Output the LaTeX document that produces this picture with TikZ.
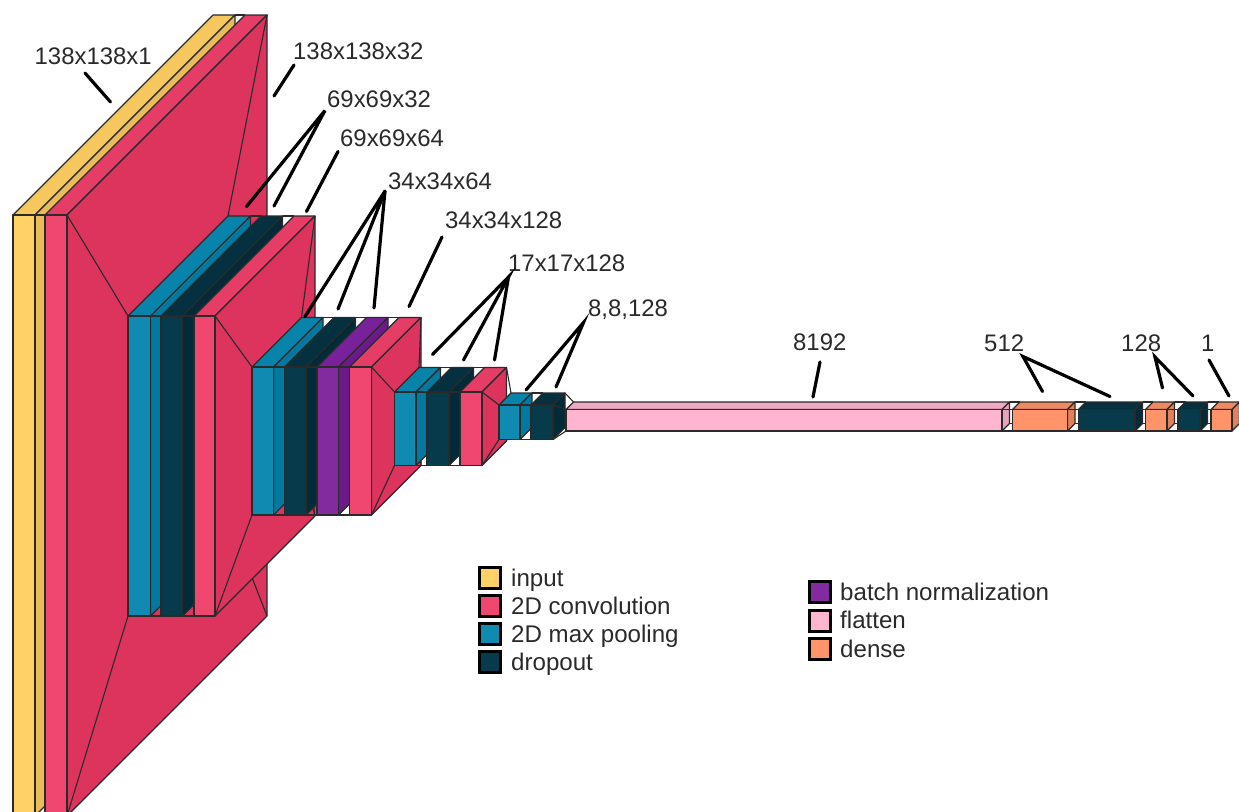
\documentclass[tikz,border=0pt]{standalone}
\usepackage{fontspec}
\setmainfont{Liberation Sans}
\usepackage{xcolor}
\definecolor{inputfront}{HTML}{FFD166}
\definecolor{inputtop}{HTML}{F5C75C}
\definecolor{inputside}{HTML}{E9BC57}
\definecolor{convfront}{HTML}{EF476F}
\definecolor{convtop}{HTML}{E53D65}
\definecolor{convside}{HTML}{DC345C}
\definecolor{poolfront}{HTML}{118AB2}
\definecolor{pooltop}{HTML}{0883A9}
\definecolor{poolside}{HTML}{0479A0}
\definecolor{dropfront}{HTML}{073B4C}
\definecolor{droptop}{HTML}{05303F}
\definecolor{dropside}{HTML}{032A38}
\definecolor{batchfront}{HTML}{822B9F}
\definecolor{batchtop}{HTML}{78219A}
\definecolor{batchside}{HTML}{6D1A89}
\definecolor{flatfront}{HTML}{FFB5D0}
\definecolor{flattop}{HTML}{F0A9C3}
\definecolor{flatside}{HTML}{E6A3BB}
\definecolor{densefront}{HTML}{FF9369}
\definecolor{densetop}{HTML}{EF8A60}
\definecolor{denseside}{HTML}{E5805A}
\definecolor{edge}{HTML}{2A2A2A}
\definecolor{ink}{HTML}{2A2A2A}
\tikzset{
    face/.style={draw=edge,line width=1.1pt,line join=round},
    link/.style={draw=edge,line width=1.1pt},
    leader/.style={draw=black,line width=3.2pt,line cap=round},
    dimlabel/.style={font=\fontsize{23.9}{27}\selectfont,text=ink,anchor=base west,inner sep=0pt},
    keylabel/.style={font=\fontsize{24.1}{27}\selectfont,text=ink,anchor=base west,inner sep=0pt},
    legendbox/.style={draw=black,line width=3pt,minimum size=21pt,inner sep=0pt}
}
% name, x0, x1, ytop, ybot, depth
\newcommand{\layerpos}[6]{
    \coordinate (#1-ftl) at (#2,#4);
    \coordinate (#1-ftr) at (#3,#4);
    \coordinate (#1-fbl) at (#2,#5);
    \coordinate (#1-fbr) at (#3,#5);
    \coordinate (#1-btl) at ({#2+#6},{#4-#6});
    \coordinate (#1-btr) at ({#3+#6},{#4-#6});
    \coordinate (#1-bbl) at ({#2+#6},{#5-#6});
    \coordinate (#1-bbr) at ({#3+#6},{#5-#6});
}
% name, kind
\newcommand{\layerbox}[2]{
    \draw[face,fill=#2top] (#1-ftl) -- (#1-btl) -- (#1-btr) -- (#1-ftr) -- cycle;
    \draw[face,fill=#2side] (#1-ftr) -- (#1-btr) -- (#1-bbr) -- (#1-fbr) -- cycle;
    \draw[face,fill=#2front] (#1-ftl) -- (#1-ftr) -- (#1-fbr) -- (#1-fbl) -- cycle;
}
\newcommand{\funnel}[2]{
    \draw[link] (#1-ftr) -- (#2-ftl);
    \draw[link] (#1-btr) -- (#2-btl);
    \draw[link] (#1-fbr) -- (#2-fbl);
    \draw[link] (#1-bbr) -- (#2-bbl);
}

\begin{document}
\begin{tikzpicture}[x=1pt,y=-1pt]
    \fill[white] (0,0) rectangle (1239,811);
    \clip (0,0) rectangle (1239,811);

    \layerpos{inp}{13}{35}{215}{816}{200}
    \layerpos{convA}{45}{67}{215}{816}{200}
    \layerpos{poolA}{128}{150.5}{316}{616}{100}
    \layerpos{dropA}{161}{182.5}{316}{616}{100}
    \layerpos{convB}{194}{215}{316}{616}{100}
    \layerpos{poolB}{252}{273.5}{367}{515}{49.5}
    \layerpos{dropB}{284.5}{306}{367}{515}{49.5}
    \layerpos{batchB}{317}{338.5}{367}{515}{49.5}
    \layerpos{convC}{349.5}{371.5}{367}{515}{49.5}
    \layerpos{poolC}{394.5}{416}{392}{465.5}{24.5}
    \layerpos{dropC}{427}{449}{392}{465.5}{24.5}
    \layerpos{convD}{460}{482}{392}{465.5}{24.5}
    \layerpos{poolD}{499}{520}{405}{439.5}{12}
    \layerpos{dropD}{531}{553}{405}{439.5}{12}
    \layerpos{flat}{566}{1002}{409.5}{431}{7.5}
    \layerpos{denseA}{1012.5}{1067.5}{409.5}{431}{7.5}
    \layerpos{dropE}{1078.5}{1135}{409.5}{431}{7.5}
    \layerpos{denseB}{1145.5}{1167}{409.5}{431}{7.5}
    \layerpos{dropF}{1178}{1200}{409.5}{431}{7.5}
    \layerpos{denseC}{1211}{1232}{409.5}{431}{7.5}

    \layerbox{inp}{input}
    \funnel{inp}{convA}
    \layerbox{convA}{conv}
    \funnel{convA}{poolA}
    \layerbox{poolA}{pool}
    \funnel{poolA}{dropA}
    \layerbox{dropA}{drop}
    \funnel{dropA}{convB}
    \layerbox{convB}{conv}
    \funnel{convB}{poolB}
    \layerbox{poolB}{pool}
    \funnel{poolB}{dropB}
    \layerbox{dropB}{drop}
    \funnel{dropB}{batchB}
    \layerbox{batchB}{batch}
    \funnel{batchB}{convC}
    \layerbox{convC}{conv}
    \funnel{convC}{poolC}
    \layerbox{poolC}{pool}
    \funnel{poolC}{dropC}
    \layerbox{dropC}{drop}
    \funnel{dropC}{convD}
    \layerbox{convD}{conv}
    \funnel{convD}{poolD}
    \layerbox{poolD}{pool}
    \funnel{poolD}{dropD}
    \layerbox{dropD}{drop}
    \funnel{dropD}{flat}
    \layerbox{flat}{flat}
    \funnel{flat}{denseA}
    \layerbox{denseA}{dense}
    \funnel{denseA}{dropE}
    \layerbox{dropE}{drop}
    \funnel{dropE}{denseB}
    \layerbox{denseB}{dense}
    \funnel{denseB}{dropF}
    \layerbox{dropF}{drop}
    \funnel{dropF}{denseC}
    \layerbox{denseC}{dense}

    \foreach \nm/\xx/\yy/\txt in {
        lblinp/34.5/64.5/138x138x1,
        lblconvA/293/59.5/138x138x32,
        lblpoolA/327/107.5/69x69x32,
        lblconvB/340/146.5/69x69x64,
        lblpoolB/388/189.5/34x34x64,
        lblconvC/445/228.5/34x34x128,
        lblpoolC/508/271.5/17x17x128,
        lblpoolD/588/316.5/{8,8,128},
        lblflat/793/350.5/8192,
        lbldenseA/984/351/512,
        lbldenseB/1121/351/128,
        lbldenseC/1201/351/1}
        \node[dimlabel] (\nm) at (\xx,\yy) {\txt};

    \coordinate (inpS) at (85,73);
    \coordinate (inpE) at (110.5,102);
    \coordinate (convAS) at (294,65);
    \coordinate (convAE) at (274,96);
    \coordinate (poolAS) at (325,110.5);
    \coordinate (poolAE) at (246.5,206.5);
    \coordinate (dropAE) at (274,206);
    \coordinate (convBS) at (338,151.5);
    \coordinate (convBE) at (306.5,211.5);
    \coordinate (poolBS) at (385,191);
    \coordinate (poolBE) at (305,316.5);
    \coordinate (dropBE) at (338,309);
    \coordinate (batchBE) at (374,308);
    \coordinate (convCS) at (442,237);
    \coordinate (convCE) at (409,306.5);
    \coordinate (poolCS) at (508.5,277);
    \coordinate (poolCE) at (432.5,354.5);
    \coordinate (dropCE) at (463.5,360);
    \coordinate (convDE) at (494.5,360);
    \coordinate (poolDS) at (583.5,322.5);
    \coordinate (poolDE) at (526,390);
    \coordinate (dropDE) at (556,387);
    \coordinate (flatS) at (820,362);
    \coordinate (flatE) at (813,397);
    \coordinate (denseAS) at (1023,356.5);
    \coordinate (denseAE) at (1042.5,391.5);
    \coordinate (dropEE) at (1110,396.5);
    \coordinate (denseBS) at (1155,357);
    \coordinate (denseBE) at (1162.5,388);
    \coordinate (dropFE) at (1193,396);
    \coordinate (denseCS) at (1209,360);
    \coordinate (denseCE) at (1229,396);

    \draw[leader] (inpS) -- (inpE);
    \draw[leader] (convAS) -- (convAE);
    \draw[leader] (poolAE) -- (poolAS) -- (dropAE);
    \draw[leader] (convBS) -- (convBE);
    \draw[leader] (poolBE) -- (poolBS) -- (dropBE);
    \draw[leader] (poolBS) -- (batchBE);
    \draw[leader] (convCS) -- (convCE);
    \draw[leader] (poolCE) -- (poolCS) -- (dropCE);
    \draw[leader] (poolCS) -- (convDE);
    \draw[leader] (poolDE) -- (poolDS) -- (dropDE);
    \draw[leader] (flatS) -- (flatE);
    \draw[leader] (denseAE) -- (denseAS) -- (dropEE);
    \draw[leader] (denseBE) -- (denseBS) -- (dropFE);
    \draw[leader] (denseCS) -- (denseCE);

    \foreach \nm/\yy/\txt in {
        input/578/input,
        conv/606/2D convolution,
        pool/634/2D max pooling,
        drop/662/dropout}{
        \node[legendbox,fill=\nm front] (key\nm) at (489.5,\yy) {};
        \node[keylabel] (keytxt\nm) at (511,\yy+8) {\txt};
    }
    \foreach \nm/\yy/\txt in {
        batch/592/batch normalization,
        flat/620.5/flatten,
        dense/649/dense}{
        \node[legendbox,fill=\nm front] (key\nm) at (820,\yy) {};
        \node[keylabel] (keytxt\nm) at (840,\yy+8) {\txt};
    }
\end{tikzpicture}
\end{document}
